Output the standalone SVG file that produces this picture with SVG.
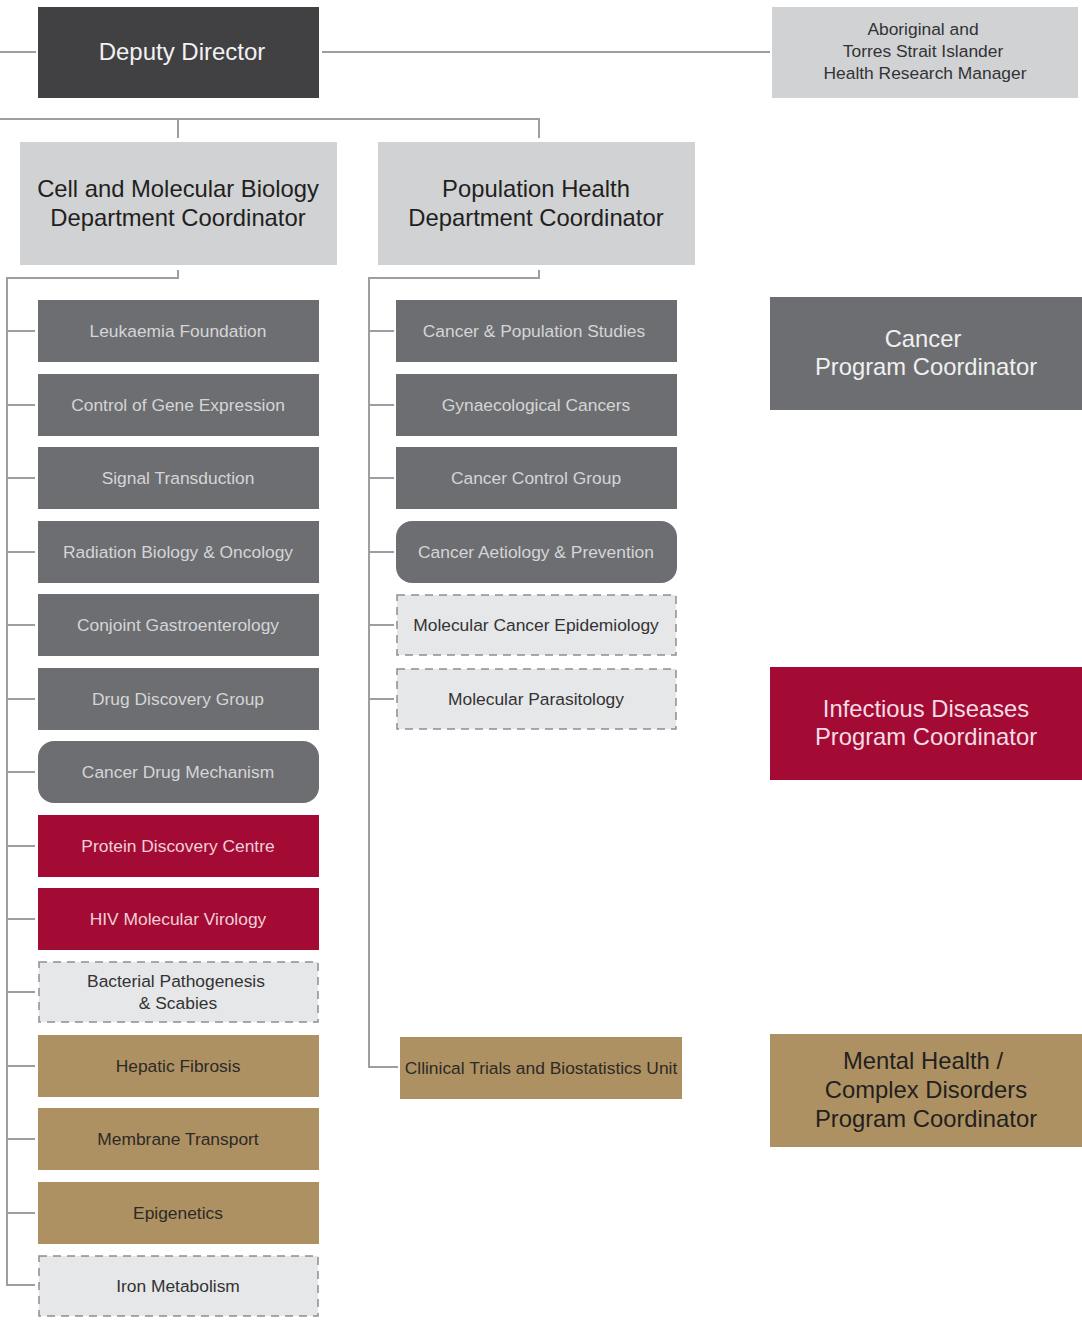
<svg xmlns="http://www.w3.org/2000/svg" width="1082" height="1320" viewBox="0 0 1082 1320">
<style>
text{font-family:"Liberation Sans",Arial,sans-serif;text-anchor:middle}
.conn{fill:none;stroke:#9d9ea0;stroke-width:2}
.dk{fill:#414042}
.lt{fill:#d1d2d4}
.gr{fill:#6d6e71}
.rd{fill:#a30b35}
.tn{fill:#ae9162}
.ds{fill:#e6e7e8;stroke:#8e8f91;stroke-width:1.5;stroke-dasharray:8 6}
.tg{fill:#d4d5d7;font-size:17.4px}
.tr{fill:#f0cfd7;font-size:17.4px}
.tt{fill:#2d2a26;font-size:17.4px}
.td{fill:#333335;font-size:17.4px}
.big{font-size:23.8px}
</style>
<rect width="1082" height="1320" fill="#ffffff"/>
<g id="connectors">
<path class="conn" d="M0 52H36M322 52H770"/>
<path class="conn" d="M0 119H539V138M178 119V138"/>
<path class="conn" d="M178 270V278H7V1285H35"/>
<path class="conn" d="M7 331H35M7 405H35M7 478H35M7 552H35M7 625H35M7 699H35M7 772H35M7 846H35M7 919H35M7 992H35M7 1066H35M7 1139H35M7 1213H35"/>
<path class="conn" d="M539 270V278H369V1067H398"/>
<path class="conn" d="M369 331H394M369 405H394M369 478H394M369 552H394M369 625H394M369 699H394"/>
</g>
<g id="deputy-director"><rect class="dk" x="38" y="7" width="281" height="91"/><text x="182" y="60" font-size="24px" fill="#f2f2f2">Deputy Director</text></g>
<g id="aboriginal"><rect class="lt" x="772" y="7" width="306" height="91"/><text class="td" x="923" y="35">Aboriginal and</text><text class="td" x="923" y="57">Torres Strait Islander</text><text class="td" x="925" y="79">Health Research Manager</text></g>
<g id="cell-mol"><rect class="lt" x="20" y="142" width="317" height="123"/><text class="big" fill="#231f20" x="178" y="197">Cell and Molecular Biology</text><text class="big" fill="#231f20" x="178" y="226">Department Coordinator</text></g>
<g id="pop-health"><rect class="lt" x="378" y="142" width="317" height="123"/><text class="big" fill="#231f20" x="536" y="197">Population Health</text><text class="big" fill="#231f20" x="536" y="226">Department Coordinator</text></g>

<g id="leukaemia"><rect class="gr" x="38" y="300" width="281" height="62"/><text class="tg" x="178" y="337">Leukaemia Foundation</text></g>
<g id="gene-expression"><rect class="gr" x="38" y="374" width="281" height="62"/><text class="tg" x="178" y="411">Control of Gene Expression</text></g>
<g id="signal"><rect class="gr" x="38" y="447" width="281" height="62"/><text class="tg" x="178" y="484">Signal Transduction</text></g>
<g id="radiation"><rect class="gr" x="38" y="521" width="281" height="62"/><text class="tg" x="178" y="558">Radiation Biology &amp; Oncology</text></g>
<g id="conjoint"><rect class="gr" x="38" y="594" width="281" height="62"/><text class="tg" x="178" y="631">Conjoint Gastroenterology</text></g>
<g id="drug-discovery"><rect class="gr" x="38" y="668" width="281" height="62"/><text class="tg" x="178" y="705">Drug Discovery Group</text></g>
<g id="cancer-drug"><rect class="gr" x="38" y="741" width="281" height="62" rx="16"/><text class="tg" x="178" y="778">Cancer Drug Mechanism</text></g>
<g id="protein"><rect class="rd" x="38" y="815" width="281" height="62"/><text class="tr" x="178" y="852">Protein Discovery Centre</text></g>
<g id="hiv"><rect class="rd" x="38" y="888" width="281" height="62"/><text class="tr" x="178" y="925">HIV Molecular Virology</text></g>
<g id="bacterial"><rect class="ds" x="39" y="962" width="279" height="60"/><text class="td" x="176" y="987">Bacterial Pathogenesis</text><text class="td" x="178" y="1009">&amp; Scabies</text></g>
<g id="hepatic"><rect class="tn" x="38" y="1035" width="281" height="62"/><text class="tt" x="178" y="1072">Hepatic Fibrosis</text></g>
<g id="membrane"><rect class="tn" x="38" y="1108" width="281" height="62"/><text class="tt" x="178" y="1145">Membrane Transport</text></g>
<g id="epigenetics"><rect class="tn" x="38" y="1182" width="281" height="62"/><text class="tt" x="178" y="1219">Epigenetics</text></g>
<g id="iron"><rect class="ds" x="39" y="1256" width="279" height="60"/><text class="td" x="178" y="1292">Iron Metabolism</text></g>

<g id="cancer-pop"><rect class="gr" x="396" y="300" width="281" height="62"/><text class="tg" x="534" y="337">Cancer &amp; Population Studies</text></g>
<g id="gynae"><rect class="gr" x="396" y="374" width="281" height="62"/><text class="tg" x="536" y="411">Gynaecological Cancers</text></g>
<g id="cancer-control"><rect class="gr" x="396" y="447" width="281" height="62"/><text class="tg" x="536" y="484">Cancer Control Group</text></g>
<g id="aetiology"><rect class="gr" x="396" y="521" width="281" height="62" rx="16"/><text class="tg" x="536" y="558">Cancer Aetiology &amp; Prevention</text></g>
<g id="mol-cancer-epi"><rect class="ds" x="397" y="595" width="279" height="60"/><text class="td" x="536" y="631">Molecular Cancer Epidemiology</text></g>
<g id="mol-parasitology"><rect class="ds" x="397" y="669" width="279" height="60"/><text class="td" x="536" y="705">Molecular Parasitology</text></g>
<g id="clinical-trials"><rect class="tn" x="400" y="1037" width="282" height="62"/><text class="tt" x="541" y="1074">Cllinical Trials and Biostatistics Unit</text></g>

<g id="cancer-program"><rect class="gr" x="770" y="297" width="312" height="113"/><text class="big" fill="#f0f0f0" x="923" y="347">Cancer</text><text class="big" fill="#f0f0f0" x="926" y="375">Program Coordinator</text></g>
<g id="infectious-program"><rect class="rd" x="770" y="667" width="312" height="113"/><text class="big" fill="#f6dde3" x="926" y="717">Infectious Diseases</text><text class="big" fill="#f6dde3" x="926" y="745">Program Coordinator</text></g>
<g id="mental-program"><rect class="tn" x="770" y="1034" width="312" height="113"/><text class="big" fill="#231f20" x="923" y="1069">Mental Health /</text><text class="big" fill="#231f20" x="926" y="1098">Complex Disorders</text><text class="big" fill="#231f20" x="926" y="1127">Program Coordinator</text></g>
</svg>
